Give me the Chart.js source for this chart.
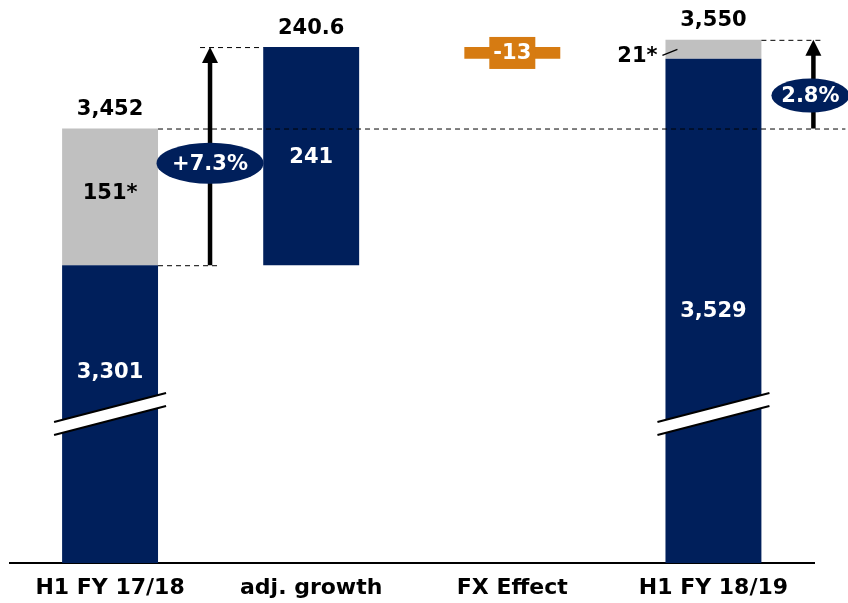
<!DOCTYPE html>
<html>
<head>
<meta charset="utf-8">
<script src="https://cdn.jsdelivr.net/npm/chart.js@4/dist/chart.umd.min.js"></script>
<style>
  html, body { margin: 0; padding: 0; background: #fff; }
  #wrap { width: 848px; height: 603px; }
</style>
</head>
<body>
<div id="wrap"><canvas id="bridge" width="848" height="603"></canvas></div>
<script>
// data (broken axis, so the scale starts near 2,972)
const categories = ['H1 FY 17/18', 'adj. growth', 'FX Effect', 'H1 FY 18/19'];
const axisMin = 2972;
const axisMax = 3594;
const blueBars = [[axisMin, 3301], [3301, 3542], null, [axisMin, 3529]];
const greyBars = [[3301, 3452], null, null, [3529, 3550]];
const fxBars   = [null, null, [3529, 3542], null];
const topLabels   = ['3,452', '240.6', null, '3,550'];
const blueLabels  = ['3,301', '241', null, '3,529'];
const greyLabels  = ['151*', null, null, null];
const fxLabels    = [null, null, '-13', null];
const growthPct = ['+7.3%', '2.8%'];

const NAVY = '#001f5b';
const GREY = '#c0c0c0';
const ORANGE = '#d67b12';
const FONT = '"DejaVu Sans", Arial, sans-serif';

function dashed(ctx, x1, x2, y) {
  ctx.save();
  ctx.strokeStyle = '#000';
  ctx.lineWidth = 1;
  ctx.setLineDash([5, 4]);
  ctx.beginPath();
  ctx.moveTo(x1, y + 0.5);
  ctx.lineTo(x2, y + 0.5);
  ctx.stroke();
  ctx.restore();
}

function arrowUp(ctx, x, yFrom, yTo) {
  ctx.save();
  ctx.strokeStyle = '#000';
  ctx.fillStyle = '#000';
  ctx.lineWidth = 4.5;
  ctx.beginPath();
  ctx.moveTo(x, yFrom);
  ctx.lineTo(x, yTo + 12);
  ctx.stroke();
  ctx.beginPath(); // head
  ctx.moveTo(x, yTo);
  ctx.lineTo(x - 8, yTo + 16);
  ctx.lineTo(x + 8, yTo + 16);
  ctx.closePath();
  ctx.fill();
  ctx.restore();
}

function pill(ctx, cx, cy, w, h, txt) {
  ctx.save();
  ctx.fillStyle = NAVY;
  ctx.beginPath();
  ctx.ellipse(cx, cy, w / 2, h / 2, 0, 0, Math.PI * 2);
  ctx.fill();
  ctx.fillStyle = '#fff';
  ctx.font = 'bold 21px ' + FONT;
  ctx.textAlign = 'center';
  ctx.textBaseline = 'middle';
  ctx.fillText(txt, cx, cy + 1);
  ctx.restore();
}

function axisBreak(ctx, cx, cy) {
  // white band with two slanted edges
  ctx.save();
  const dx = 56, dy = 14.5, g = 6.5;
  ctx.fillStyle = '#fff';
  ctx.beginPath();
  ctx.moveTo(cx - dx, cy + dy - g);
  ctx.lineTo(cx + dx, cy - dy - g);
  ctx.lineTo(cx + dx, cy - dy + g);
  ctx.lineTo(cx - dx, cy + dy + g);
  ctx.closePath();
  ctx.fill();
  ctx.strokeStyle = '#000';
  ctx.lineWidth = 2;
  ctx.beginPath();
  ctx.moveTo(cx - dx, cy + dy - g);
  ctx.lineTo(cx + dx, cy - dy - g);
  ctx.moveTo(cx - dx, cy + dy + g);
  ctx.lineTo(cx + dx, cy - dy + g);
  ctx.stroke();
  ctx.restore();
}

const bridgePlugin = {
  id: 'bridge',
  afterDatasetsDraw(chart) {
    const ctx = chart.ctx;
    const xs = chart.scales.x, ys = chart.scales.y;
    const X = i => xs.getPixelForValue(i);
    const Y = v => ys.getPixelForValue(v);
    const half = chart.getDatasetMeta(0).data[0].width / 2;

    // breaks on the two total bars
    axisBreak(ctx, X(0), 414);
    axisBreak(ctx, X(3), 414);

    // dashed reference lines
    dashed(ctx, X(0) + half, X(3) + half + 84, Y(greyBars[0][1]));
    dashed(ctx, X(0) + half, X(0) + half + 60, Y(greyBars[0][0]));
    dashed(ctx, X(0) + half + 42, X(1) - half, Y(blueBars[1][1]));
    dashed(ctx, X(3) + half, X(3) + half + 60, Y(greyBars[3][1]));

    // arrows + growth ellipses
    const ax1 = X(0) + half + 52;
    arrowUp(ctx, ax1, Y(greyBars[0][0]), Y(blueBars[1][1]));
    pill(ctx, ax1, Y(greyBars[0][0]) - 102, 107, 41, growthPct[0]);
    const ax2 = X(3) + half + 52;
    arrowUp(ctx, ax2, Y(greyBars[0][1]), Y(greyBars[3][1]));
    pill(ctx, ax2 - 3, Y(greyBars[0][1]) - 33, 78, 34, growthPct[1]);

    ctx.save();
    ctx.font = 'bold 21px ' + FONT;
    ctx.textAlign = 'center';
    ctx.textBaseline = 'middle';
    categories.forEach((c, i) => {
      const x = X(i);
      if (topLabels[i]) {
        const top = Math.max(...[blueBars[i], greyBars[i]].filter(Boolean).map(b => b[1]));
        ctx.fillStyle = '#000';
        ctx.fillText(topLabels[i], x, Y(top) - 19);
      }
      if (blueLabels[i]) {
        const b = blueBars[i];
        let y = (Y(b[0]) + Y(b[1])) / 2;
        if (i === 0) y -= 43;
        ctx.fillStyle = '#fff';
        ctx.fillText(blueLabels[i], x, y + 1);
      }
      if (greyLabels[i]) {
        const g = greyBars[i];
        ctx.fillStyle = '#000';
        ctx.fillText(greyLabels[i], x, (Y(g[0]) + Y(g[1])) / 2 - 3);
      }
      if (fxLabels[i]) {
        const f = fxBars[i];
        const cy = (Y(f[0]) + Y(f[1])) / 2;
        ctx.fillStyle = ORANGE;
        ctx.fillRect(x - 23, cy - 16, 46, 32);
        ctx.fillStyle = '#fff';
        ctx.fillText(fxLabels[i], x, cy + 1);
      }
    });
    // small grey slice of the last bar is labelled outside
    const g3 = greyBars[3];
    const gy = (Y(g3[0]) + Y(g3[1])) / 2;
    ctx.fillStyle = '#000';
    ctx.fillText('21*', X(3) - 76, gy + 7);
    ctx.lineWidth = 1.5;
    ctx.beginPath();
    ctx.moveTo(X(3) - 51, gy + 6);
    ctx.lineTo(X(3) - 36, gy);
    ctx.stroke();
    ctx.restore();
  }
};

const common = { grouped: false, barPercentage: 0.477, categoryPercentage: 1, borderWidth: 0 };

new Chart(document.getElementById('bridge'), {
  type: 'bar',
  data: {
    labels: categories,
    datasets: [
      Object.assign({ label: 'base', data: blueBars, backgroundColor: NAVY }, common),
      Object.assign({ label: 'adjustment', data: greyBars, backgroundColor: GREY }, common),
      Object.assign({ label: 'fx', data: fxBars, backgroundColor: ORANGE }, common)
    ]
  },
  options: {
    responsive: false,
    animation: false,
    layout: { padding: { left: 9.5, right: 34, top: 0, bottom: -10 } },
    plugins: { legend: { display: false }, tooltip: { enabled: false } },
    scales: {
      x: {
        grid: { display: false, drawTicks: false },
        border: { display: true, color: '#000', width: 2 },
        ticks: { color: '#000', padding: 14, font: { family: FONT, size: 22, weight: 'bold', lineHeight: 1 } }
      },
      y: { display: false, min: axisMin, max: axisMax }
    }
  },
  plugins: [bridgePlugin]
});
</script>
</body>
</html>
